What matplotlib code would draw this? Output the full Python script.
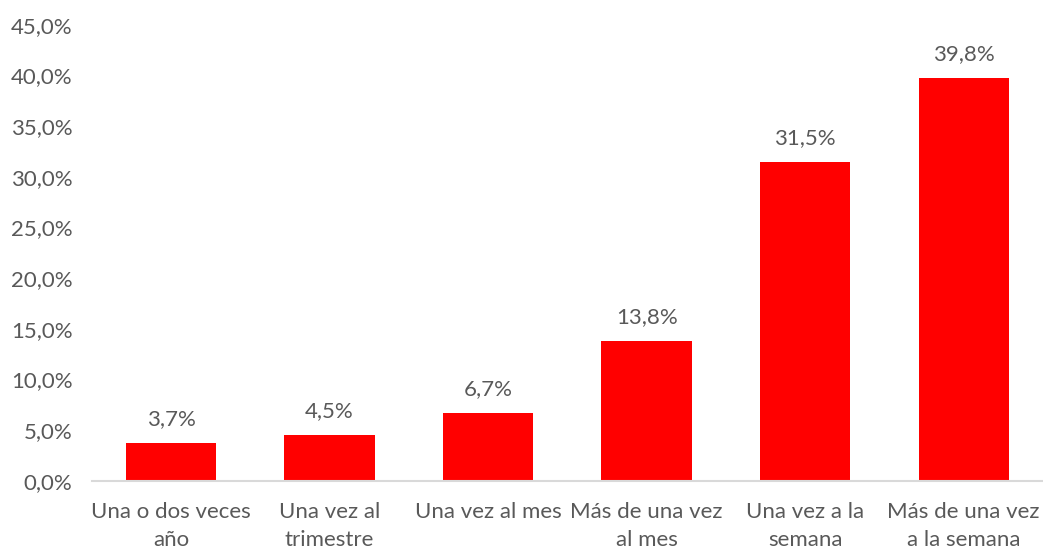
import matplotlib
matplotlib.use("Agg")
import matplotlib.pyplot as plt
from matplotlib.ticker import FuncFormatter

# ── Data ──────────────────────────────────────────────────────────────────────
categories = ["Una o dos veces\naño", "Una vez al\ntrimestre", "Una vez al mes",
              "Más de una vez\nal mes", "Una vez a la\nsemana", "Más de una vez\na la semana"]
values = [3.7, 4.5, 6.7, 13.8, 31.5, 39.8]

C_BAR  = "#ff0000"
C_TEXT = "#595959"
C_AXIS = "#d9d9d9"

plt.rcParams["font.family"] = ["Lato", "DejaVu Sans"]

fig = plt.figure(figsize=(10.43, 5.49), dpi=100)
ax = fig.add_axes([0.088, 0.124, 0.912, 0.8306])

x = range(len(categories))
bars = ax.bar(x, values, width=0.57, color=C_BAR, zorder=2)

for xi, v in zip(x, values):
    ax.annotate(f"{v:.1f}%".replace(".", ","), (xi, v), xytext=(0, 10),
                textcoords="offset points", ha="center", va="bottom",
                fontsize=16, color=C_TEXT)

ax.set_xlim(-0.5, len(categories) - 0.5)
ax.set_ylim(0, 45)
ax.set_yticks(range(0, 46, 5))
ax.yaxis.set_major_formatter(FuncFormatter(lambda v, _: f"{v:.1f}%".replace(".", ",")))
ax.set_xticks(list(x))
ax.set_xticklabels(categories, linespacing=1.5)

ax.tick_params(axis="both", length=0, labelsize=16, colors=C_TEXT)
ax.tick_params(axis="y", pad=14)
ax.tick_params(axis="x", pad=15)

for side in ("top", "right", "left"):
    ax.spines[side].set_visible(False)
ax.spines["bottom"].set_color(C_AXIS)
ax.spines["bottom"].set_linewidth(1.5)

fig.savefig("out.png", dpi=100)
